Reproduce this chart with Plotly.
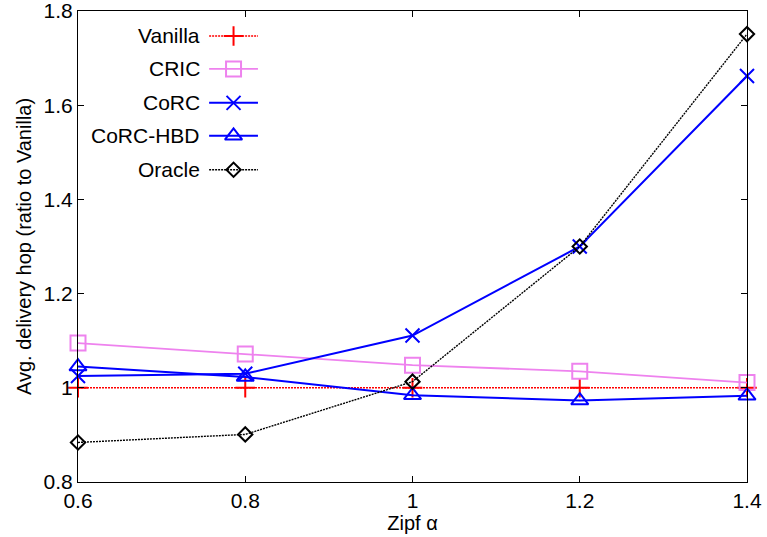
import plotly.graph_objects as go

x_vals = [0.6, 0.8, 1.0, 1.2, 1.4]
vanilla = [1.0, 1.0, 1.0, 1.0, 1.0]
cric = [1.095, 1.072, 1.048, 1.035, 1.011]
corc = [1.025, 1.030, 1.111, 1.300, 1.662]
corc_hbd = [1.045, 1.023, 0.984, 0.973, 0.983]
oracle = [0.884, 0.901, 1.013, 1.300, 1.751]

names = ["Vanilla", "CRIC", "CoRC", "CoRC-HBD", "Oracle"]
series = [vanilla, cric, corc, corc_hbd, oracle]
colors = ["#FF0000", "#EE82EE", "#0000FF", "#0000FF", "#000000"]
symbols = ["cross-thin-open", "square-open", "x-thin-open", "triangle-up-open", "diamond-open"]
msizes = [14, 15, 14, 15, 11]
dashes = ["2px,1px", "solid", "solid", "solid", "2px,1px"]
lwidths = [1.4, 1.8, 2, 2, 1.4]

fig = go.Figure()
for nm, ys, c, s, ms, d, lw in zip(names, series, colors, symbols, msizes, dashes, lwidths):
    fig.add_trace(go.Scatter(
        x=x_vals, y=ys, mode="lines+markers", name=nm,
        line=dict(color=c, width=lw, dash=d),
        marker=dict(symbol=s, size=ms, color=c, line=dict(color=c, width=2)),
        cliponaxis=False, showlegend=False))

# custom legend (text right-aligned, sample on right) in overlay axis spanning the plot area
leg_y = [0.947, 0.877, 0.805, 0.735, 0.663]
for i, (nm, c, s, ms, d, lw) in enumerate(zip(names, colors, symbols, msizes, dashes, lwidths)):
    fig.add_trace(go.Scatter(
        x=[0.196, 0.269], y=[leg_y[i], leg_y[i]], mode="lines",
        line=dict(color=c, width=lw, dash=d), xaxis="x2", yaxis="y2",
        showlegend=False, hoverinfo="skip"))
    fig.add_trace(go.Scatter(
        x=[0.2325], y=[leg_y[i]], mode="markers",
        marker=dict(symbol=s, size=ms, color=c, line=dict(color=c, width=2)),
        xaxis="x2", yaxis="y2", showlegend=False, hoverinfo="skip"))
    fig.add_annotation(x=0.185, y=leg_y[i], xref="x2", yref="y2", text=nm,
                       showarrow=False, xanchor="right", yanchor="middle",
                       font=dict(size=21, color="black"))

axis_common = dict(showline=True, linecolor="black", linewidth=1, mirror="allticks",
                   ticks="inside", ticklen=6, tickcolor="black", showgrid=False,
                   zeroline=False, automargin=False, ticklabeloverflow="allow",
                   tickfont=dict(size=21, color="black"))

fig.update_layout(
    template="none",
    width=767, height=537,
    margin=dict(l=78, r=20, t=11, b=55),
    plot_bgcolor="white", paper_bgcolor="white",
    font=dict(family="Liberation Sans, Arial, sans-serif", color="black"),
    xaxis=dict(range=[0.6, 1.4], tickvals=[0.6, 0.8, 1.0, 1.2, 1.4],
               ticktext=["0.6", "0.8", "1", "1.2", "1.4"],
               title=dict(text="Zipf α", font=dict(size=20), standoff=2), **axis_common),
    yaxis=dict(range=[0.8, 1.8], tickvals=[0.8, 1.0, 1.2, 1.4, 1.6, 1.8],
               ticktext=["0.8", "1", "1.2", "1.4", "1.6", "1.8"],
               title=dict(text="Avg. delivery hop (ratio to Vanilla)", font=dict(size=20), standoff=6),
               **axis_common),
    xaxis2=dict(range=[0, 1], visible=False, overlaying="x", anchor="y2", automargin=False),
    yaxis2=dict(range=[0, 1], visible=False, overlaying="y", anchor="x2", automargin=False),
)

fig.write_html("out.html")
